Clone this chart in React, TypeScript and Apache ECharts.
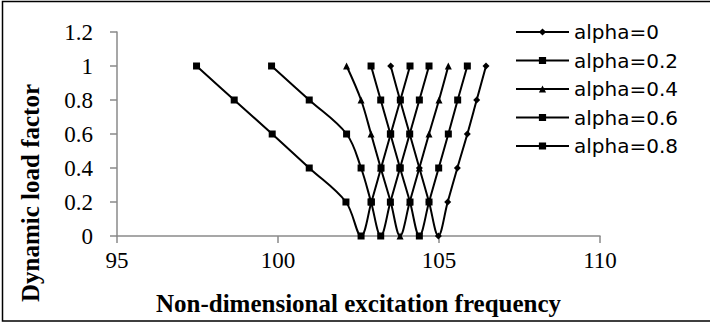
import React, { useEffect, useRef } from "react";
import * as echarts from "echarts";

// Data: [non-dimensional excitation frequency, dynamic load factor]
const alpha0: number[][] = [
  [103.5, 1], [103.79, 0.8], [104.09, 0.6], [104.39, 0.4], [104.69, 0.2], [104.98, 0],
  [105.27, 0.2], [105.57, 0.4], [105.88, 0.6], [106.17, 0.8], [106.46, 1],
];
const alpha02: number[][] = [
  [102.89, 1], [103.19, 0.8], [103.49, 0.6], [103.79, 0.4], [104.1, 0.2], [104.39, 0],
  [104.69, 0.2], [104.99, 0.4], [105.29, 0.6], [105.58, 0.8], [105.88, 1],
];
const alpha04: number[][] = [
  [102.13, 1], [102.58, 0.8], [102.89, 0.6], [103.19, 0.4], [103.5, 0.2], [103.79, 0],
  [104.09, 0.2], [104.39, 0.4], [104.69, 0.6], [105.0, 0.8], [105.29, 1],
];
const alpha06: number[][] = [
  [99.8, 1], [100.97, 0.8], [102.13, 0.6], [102.58, 0.4], [102.89, 0.2], [103.19, 0],
  [103.49, 0.2], [103.79, 0.4], [104.09, 0.6], [104.39, 0.8], [104.69, 1],
];
const alpha08: number[][] = [
  [97.47, 1], [98.64, 0.8], [99.82, 0.6], [100.97, 0.4], [102.11, 0.2], [102.58, 0],
  [102.9, 0.2], [103.2, 0.4], [103.5, 0.6], [103.8, 0.8], [104.1, 1],
];

const seriesNames = ["alpha=0", "alpha=0.2", "alpha=0.4", "alpha=0.6", "alpha=0.8"];
const seriesData = [alpha0, alpha02, alpha04, alpha06, alpha08];
const seriesSymbols = ["diamond", "rect", "triangle", "rect", "rect"];
const seriesSymbolSizes = [7, 7, 7, 7, 7];

const xMin = 95;
const xMax = 110;
const xInterval = 5;
const yMin = 0;
const yMax = 1.2;
const yInterval = 0.2;

const xTitle = "Non-dimensional excitation frequency";
const yTitle = "Dynamic load factor";

export default function App() {
  const ref = useRef<HTMLDivElement>(null);

  useEffect(() => {
    if (!ref.current) return;
    const chart = echarts.init(ref.current, undefined, { renderer: "svg" });
    const axisGray = "#8a8a8a";
    const option: any = {
      animation: false,
      backgroundColor: "#ffffff",
      grid: { left: 117, right: 110, top: 32, bottom: 87, containLabel: false },
      xAxis: {
        type: "value",
        min: xMin,
        max: xMax,
        interval: xInterval,
        splitLine: { show: false },
        axisLine: { show: true, lineStyle: { color: axisGray, width: 1.5 } },
        axisTick: { show: true, length: 7, lineStyle: { color: axisGray, width: 1.5 } },
        axisLabel: {
          margin: 13,
          color: "#000",
          fontFamily: "Liberation Serif",
          fontSize: 23,
        },
      },
      yAxis: {
        type: "value",
        min: yMin,
        max: yMax,
        interval: yInterval,
        splitLine: { show: false },
        axisLine: { show: true, lineStyle: { color: axisGray, width: 1.5 } },
        axisTick: { show: true, length: 7, lineStyle: { color: axisGray, width: 1.5 } },
        axisLabel: {
          margin: 24,
          color: "#000",
          fontFamily: "Liberation Serif",
          fontSize: 23,
        },
      },
      legend: {
        orient: "vertical",
        left: 515,
        top: 22,
        padding: 0,
        itemWidth: 53,
        itemHeight: 9,
        itemGap: 8.5,
        textStyle: { color: "#000", fontFamily: "DejaVu Sans", fontSize: 20, padding: [0, 0, 0, 0] },
        data: seriesNames,
      },
      series: seriesNames.map((name, i) => ({
        name,
        type: "line",
        data: seriesData[i],
        smooth: 0.35,
        symbol: seriesSymbols[i],
        symbolSize: seriesSymbolSizes[i],
        showSymbol: true,
        lineStyle: { color: "#000", width: 2 },
        itemStyle: { color: "#000" },
        emphasis: { disabled: true },
      })),
      graphic: [
        {
          type: "rect",
          silent: true,
          shape: { x: 2.5, y: 1.5, width: 720, height: 319.5 },
          style: { fill: "none", stroke: "#000", lineWidth: 1.5 },
        },
        {
          type: "text",
          x: 358.5,
          y: 303.5,
          style: {
            text: xTitle,
            fontFamily: "Liberation Serif",
            fontWeight: "bold",
            fontSize: 25,
            fill: "#000",
            textAlign: "center",
            textVerticalAlign: "middle",
          },
        },
        {
          type: "text",
          x: 30.5,
          y: 193,
          rotation: Math.PI / 2,
          style: {
            text: yTitle,
            fontFamily: "Liberation Serif",
            fontWeight: "bold",
            fontSize: 25,
            fill: "#000",
            textAlign: "center",
            textVerticalAlign: "middle",
          },
        },
      ],
    };
    chart.setOption(option);
    return () => chart.dispose();
  }, []);

  return (
    <div
      ref={ref}
      style={{ position: "fixed", left: 0, top: 0, width: 710, height: 323, background: "#fff" }}
    />
  );
}
